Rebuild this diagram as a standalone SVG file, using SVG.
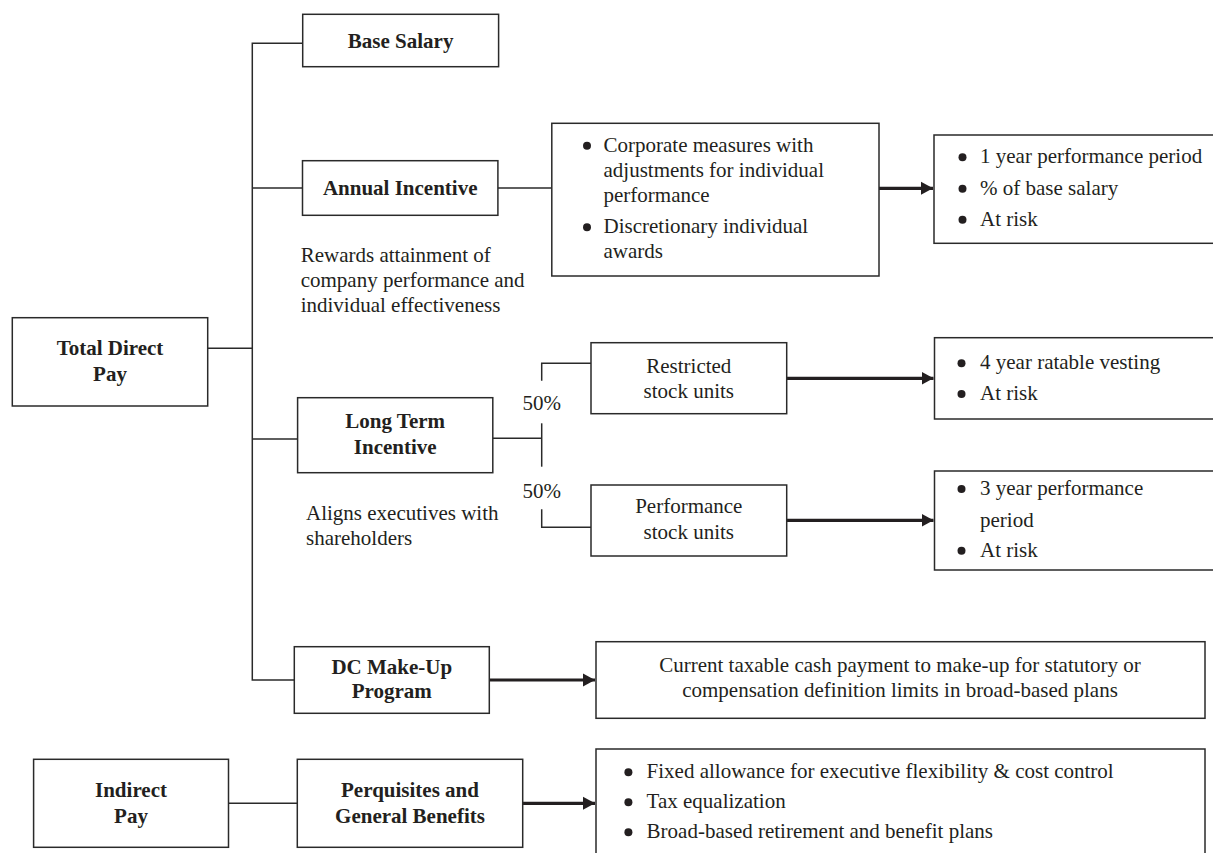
<svg xmlns="http://www.w3.org/2000/svg" width="1213" height="853" viewBox="0 0 1213 853">
<defs>
<style>
.box{fill:#fff;stroke:#2a2a2a;stroke-width:1.5}
.ln{fill:none;stroke:#2a2a2a;stroke-width:1.5}
.ar{fill:none;stroke:#231f20;stroke-width:3.2}
.t{font-family:"Liberation Serif","Times New Roman",serif;font-size:21px;fill:#231f20}
.b{font-weight:bold}
.c{text-anchor:middle}
.dot{fill:#231f20}
</style>
<marker id="ah" markerUnits="userSpaceOnUse" markerWidth="13" markerHeight="14" refX="12" refY="7" orient="auto">
<path d="M0,0.5 L12,7 L0,13.5 z" fill="#231f20"/>
</marker>
</defs>
<rect width="1213" height="853" fill="#fff"/>

<g id="connectors">
<path class="ln" d="M302.7,43.3 H252.3 V680 H294.3"/>
<path class="ln" d="M252.3,188 H302.5"/>
<path class="ln" d="M207.7,348.3 H252.3"/>
<path class="ln" d="M252.3,439 H297.6"/>
<path class="ln" d="M497.9,188 H551.8"/>
<path class="ln" d="M492.8,438.3 H541.7"/>
<path class="ln" d="M591,363.3 H541.7 V380.7"/>
<path class="ln" d="M541.7,423.3 V466.7"/>
<path class="ln" d="M541.7,509.3 V527.3 H591"/>
<path class="ln" d="M228.5,803.3 H297.3"/>
<path class="ar" d="M879,188.3 H933" marker-end="url(#ah)"/>
<path class="ar" d="M786.7,378.3 H933.5" marker-end="url(#ah)"/>
<path class="ar" d="M786.7,520.3 H933.5" marker-end="url(#ah)"/>
<path class="ar" d="M489.3,680 H595" marker-end="url(#ah)"/>
<path class="ar" d="M522.7,803.3 H595" marker-end="url(#ah)"/>
<text class="t c" x="541.7" y="410">50%</text>
<text class="t c" x="541.7" y="497.7">50%</text>
</g>

<g id="base-salary">
<rect class="box" x="302.7" y="14.3" width="195.9" height="52.4"/>
<text class="t b c" x="400.6" y="47.5">Base Salary</text>
</g>

<g id="annual-incentive">
<rect class="box" x="302.5" y="160.7" width="195.4" height="54.6"/>
<text class="t b c" x="400.2" y="195">Annual Incentive</text>
</g>

<g id="annual-note">
<text class="t" x="300.7" y="261.7">Rewards attainment of</text>
<text class="t" x="300.7" y="286.7">company performance and</text>
<text class="t" x="300.7" y="311.7">individual effectiveness</text>
</g>

<g id="annual-measures">
<rect class="box" x="551.8" y="123.3" width="327.2" height="152.7"/>
<circle class="dot" cx="587" cy="145.7" r="4"/>
<text class="t" x="603.5" y="151.7">Corporate measures with</text>
<text class="t" x="603.5" y="176.7">adjustments for individual</text>
<text class="t" x="603.5" y="201.7">performance</text>
<circle class="dot" cx="587" cy="227.3" r="4"/>
<text class="t" x="603.5" y="233.3">Discretionary individual</text>
<text class="t" x="603.5" y="258.3">awards</text>
</g>

<g id="annual-terms">
<rect class="box" x="934" y="135" width="282" height="108.3"/>
<circle class="dot" cx="962.5" cy="157.3" r="4"/>
<text class="t" x="980" y="163.3">1 year performance period</text>
<circle class="dot" cx="962.5" cy="188.7" r="4"/>
<text class="t" x="980" y="194.7">% of base salary</text>
<circle class="dot" cx="962.5" cy="219.8" r="4"/>
<text class="t" x="980" y="225.8">At risk</text>
</g>

<g id="total-direct-pay">
<rect class="box" x="12.3" y="317.7" width="195.4" height="88.3"/>
<text class="t b c" x="110" y="355">Total Direct</text>
<text class="t b c" x="110" y="380.5">Pay</text>
</g>

<g id="long-term-incentive">
<rect class="box" x="297.6" y="397.7" width="195.2" height="75"/>
<text class="t b c" x="395.2" y="428.3">Long Term</text>
<text class="t b c" x="395.2" y="454">Incentive</text>
</g>

<g id="lti-note">
<text class="t" x="306" y="520">Aligns executives with</text>
<text class="t" x="306" y="545">shareholders</text>
</g>

<g id="restricted-stock">
<rect class="box" x="591" y="342.7" width="195.7" height="71"/>
<text class="t c" x="688.8" y="372.7">Restricted</text>
<text class="t c" x="688.8" y="398.3">stock units</text>
</g>

<g id="rsu-terms">
<rect class="box" x="934.5" y="337.7" width="282" height="81.3"/>
<circle class="dot" cx="961.5" cy="363.3" r="4"/>
<text class="t" x="980" y="369.3">4 year ratable vesting</text>
<circle class="dot" cx="961.5" cy="394" r="4"/>
<text class="t" x="980" y="400">At risk</text>
</g>

<g id="performance-stock">
<rect class="box" x="591" y="485" width="195.7" height="71"/>
<text class="t c" x="688.8" y="513.3">Performance</text>
<text class="t c" x="688.8" y="539.3">stock units</text>
</g>

<g id="psu-terms">
<rect class="box" x="934.5" y="471" width="282" height="99"/>
<circle class="dot" cx="961.5" cy="489" r="4"/>
<text class="t" x="980" y="495">3 year performance</text>
<text class="t" x="980" y="526.7">period</text>
<circle class="dot" cx="961.5" cy="550.7" r="4"/>
<text class="t" x="980" y="556.7">At risk</text>
</g>

<g id="dc-make-up">
<rect class="box" x="294.3" y="646.7" width="195" height="66.6"/>
<text class="t b c" x="391.8" y="674.3">DC Make-Up</text>
<text class="t b c" x="391.8" y="698.3">Program</text>
</g>

<g id="dc-terms">
<rect class="box" x="596" y="641.7" width="609" height="76.6"/>
<text class="t c" x="900" y="671.7">Current taxable cash payment to make-up for statutory or</text>
<text class="t c" x="900" y="696.7">compensation definition limits in broad-based plans</text>
</g>

<g id="indirect-pay">
<rect class="box" x="33.6" y="759.3" width="194.9" height="88"/>
<text class="t b c" x="131" y="796.7">Indirect</text>
<text class="t b c" x="131" y="822.7">Pay</text>
</g>

<g id="perquisites">
<rect class="box" x="297.3" y="759.3" width="225.4" height="88"/>
<text class="t b c" x="410" y="796.7">Perquisites and</text>
<text class="t b c" x="410" y="822.7">General Benefits</text>
</g>

<g id="perquisite-terms">
<rect class="box" x="596" y="749" width="609" height="120"/>
<circle class="dot" cx="628.4" cy="772.3" r="4"/>
<text class="t" x="646.6" y="778.3">Fixed allowance for executive flexibility &amp; cost control</text>
<circle class="dot" cx="628.4" cy="802.3" r="4"/>
<text class="t" x="646.6" y="808.3">Tax equalization</text>
<circle class="dot" cx="628.4" cy="832.3" r="4"/>
<text class="t" x="646.6" y="838.3">Broad-based retirement and benefit plans</text>
</g>
</svg>
